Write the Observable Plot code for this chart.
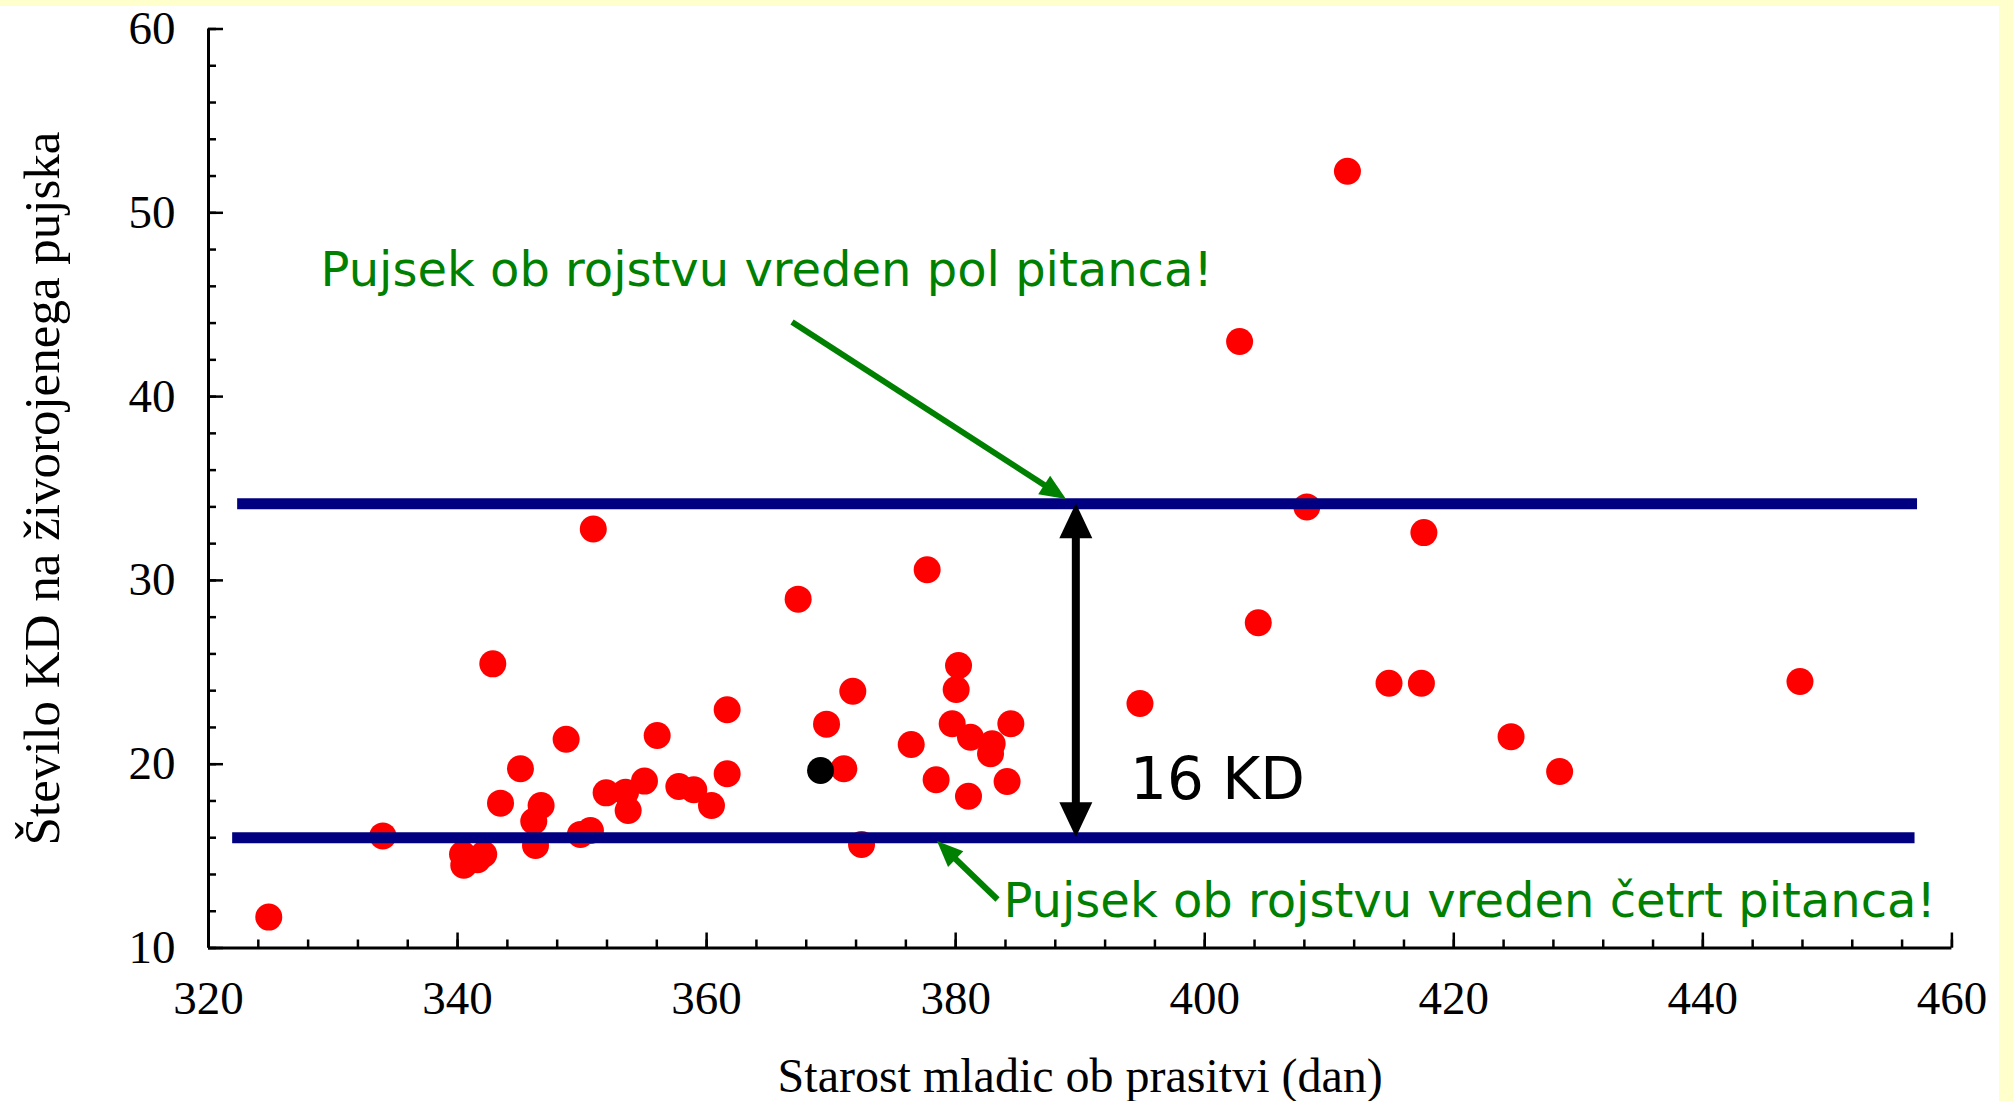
<!DOCTYPE html>
<html>
<head>
<meta charset="utf-8">
<script src="https://cdn.jsdelivr.net/npm/d3@7"></script>
<script src="https://cdn.jsdelivr.net/npm/@observablehq/plot@0.6"></script>
<style>
  html, body { margin: 0; padding: 0; background: #ffffcc; }
  #chart { position: absolute; left: 0; top: 6px; }
</style>
</head>
<body>
<div id="chart"></div>
<script>
// ---- data ----
const ageDays = [
  342.83, 361.65, 348.72, 356.03, 345.05, 361.65, 343.45, 346.71, 346.12, 346.26,
  351.93, 353.49, 353.70, 355.01, 357.77, 358.97, 360.39, 349.87, 350.67,
  340.4, 340.5, 341.6, 342.1,
  377.71, 367.35, 380.23, 380.04, 371.74, 369.63, 379.72, 384.43, 381.19, 382.93,
  382.80, 376.43, 371.02, 378.43, 384.13, 381.03, 372.44,
  324.84, 334.0, 350.9, 394.8, 402.8, 404.3, 408.2, 411.46, 414.8, 417.4, 417.6,
  424.6, 428.5, 447.8
];
const kdPerPiglet = [
  25.46, 22.96, 21.36, 21.56, 19.75, 19.48, 17.88, 17.75, 16.90, 15.58,
  18.44, 18.48, 17.48, 19.08, 18.79, 18.61, 17.75, 16.18, 16.39,
  15.1, 14.5, 14.8, 15.1,
  30.58, 28.98, 25.37, 24.06, 23.97, 22.18, 22.20, 22.20, 21.47, 21.11,
  20.57, 21.07, 19.75, 19.15, 19.06, 18.26, 15.63,
  11.68, 16.1, 32.8, 23.3, 43.0, 27.7, 34.0, 52.26, 24.4, 24.4, 32.6,
  21.5, 19.6, 24.5
];
const highlightAge = [369.15];
const highlightKd = [19.66];

// reference levels (half / quarter of a ration)
const levelValues = [16.0, 34.17];
const levelStart = [321.9, 322.3];
const levelEnd = [457.0, 457.2];

// ticks
const xTickLabels = [320, 340, 360, 380, 400, 420, 440, 460];
const yTickLabels = [10, 20, 30, 40, 50, 60];
const xMinorTicks = d3.range(320, 461, 4);
const yMinorTicks = d3.range(10, 61, 2);

// annotations
const noteTexts = ["Pujsek ob rojstvu vreden pol pitanca!", "Pujsek ob rojstvu vreden četrt pitanca!"];
const noteX = [329.0, 383.84];
const noteY = [46.04, 11.66];
const gapText = ["16 KD"];
const gapX = [394.0];
const gapY = [18.13];
// green pointer arrows: from text to level line
const pointerFromX = [366.9, 383.4];
const pointerFromY = [44.03, 12.61];
const pointerToX = [388.9, 378.54];
const pointerToY = [34.40, 15.79];
// black double arrow between the levels
const gapArrowX = [389.69];

const xTitle = "Starost mladic ob prasitvi (dan)";
const yTitle = "Število KD na živorojenega pujska";

// ---- tables built from the arrays ----
const points = ageDays.map((x, i) => ({x, y: kdPerPiglet[i]}));
const highlight = highlightAge.map((x, i) => ({x, y: highlightKd[i]}));
const levels = levelValues.map((v, i) => ({v, x1: levelStart[i], x2: levelEnd[i]}));
const notes = noteTexts.map((t, i) => ({t, x: noteX[i], y: noteY[i]}));
const gapNotes = gapText.map((t, i) => ({t, x: gapX[i], y: gapY[i]}));
const pointers = pointerFromX.map((x, i) => ({x1: x, y1: pointerFromY[i], x2: pointerToX[i], y2: pointerToY[i]}));

const serif = "'Liberation Serif', 'Times New Roman', Times, serif";
const sans = "'DejaVu Sans', Verdana, sans-serif";

function arrowMark(index, scales) {
  const g = d3.create("svg:g");
  function head(tx, ty, fx, fy, len, wid, color) {
    const dx = tx - fx, dy = ty - fy, d = Math.hypot(dx, dy);
    const ux = dx / d, uy = dy / d, px = -uy, py = ux;
    const bx = tx - ux * len, by = ty - uy * len;
    g.append("path")
      .attr("d", `M${tx},${ty}L${bx + px * wid / 2},${by + py * wid / 2}L${bx - px * wid / 2},${by - py * wid / 2}Z`)
      .attr("fill", color);
    return [bx + ux * 2, by + uy * 2];
  }
  // green pointers
  for (const p of pointers) {
    const x1 = scales.x(p.x1), y1 = scales.y(p.y1), x2 = scales.x(p.x2), y2 = scales.y(p.y2);
    const [bx, by] = head(x2, y2, x1, y1, 26, 22, "#008000");
    g.append("line").attr("x1", x1).attr("y1", y1).attr("x2", bx).attr("y2", by)
      .attr("stroke", "#008000").attr("stroke-width", 6);
  }
  // black double arrow
  for (const ax of gapArrowX) {
    const x = scales.x(ax), yTop = scales.y(levelValues[1]), yBot = scales.y(levelValues[0]);
    const [tx, ty] = head(x, yTop, x, yBot, 35, 33, "black");
    const [bx, by] = head(x, yBot, x, yTop, 35, 33, "black");
    g.append("line").attr("x1", tx).attr("y1", ty).attr("x2", bx).attr("y2", by)
      .attr("stroke", "black").attr("stroke-width", 8);
  }
  return g.node();
}

const chart = Plot.plot({
  width: 1999,
  height: 1095,
  marginLeft: 208,
  marginRight: 47.6,
  marginTop: 22.5,
  marginBottom: 153.5,
  x: {domain: [320, 460]},
  y: {domain: [10, 60]},
  style: {background: "white", fontFamily: serif, overflow: "visible", color: "black"},
  marks: [
    Plot.dot(points, {x: "x", y: "y", r: 13.5, fill: "#ff0000"}),
    Plot.dot(highlight, {x: "x", y: "y", r: 13.5, fill: "black"}),
    Plot.link(levels, {x1: "x1", x2: "x2", y1: "v", y2: "v", stroke: "#000080", strokeWidth: 11}),
    // axis lines
    Plot.ruleY([10], {x1: 320, x2: 460, stroke: "black", strokeWidth: 3}),
    Plot.ruleX([320], {y1: 10, y2: 60, stroke: "black", strokeWidth: 3}),
    // inward ticks
    Plot.axisX({ticks: xMinorTicks, tickSize: -8, tickFormat: () => "", strokeWidth: 2.5, label: null}),
    Plot.axisX({ticks: xTickLabels, tickSize: -15, tickFormat: () => "", strokeWidth: 2.5, label: null}),
    Plot.axisY({ticks: yMinorTicks, tickSize: -8, tickFormat: () => "", strokeWidth: 2.5, label: null}),
    Plot.axisY({ticks: yTickLabels, tickSize: -15, tickFormat: () => "", strokeWidth: 2.5, label: null}),
    // tick labels
    Plot.axisX({ticks: xTickLabels, tickSize: 0, tickPadding: 33, fontSize: 47, label: null, fontFamily: serif}),
    Plot.axisY({ticks: yTickLabels, tickSize: 0, tickPadding: 33, fontSize: 47, label: null, fontFamily: serif}),
    // axis titles
    Plot.text([xTitle], {frameAnchor: "bottom", dy: 143.5, lineAnchor: "bottom", fontSize: 48, fontFamily: serif, fill: "black"}),
    Plot.text([yTitle], {frameAnchor: "left", dx: -150, rotate: -90, textAnchor: "middle", lineAnchor: "bottom", fontSize: 51, fontFamily: serif, fill: "black"}),
    // annotations
    Plot.text(notes, {x: "x", y: "y", text: "t", textAnchor: "start", lineAnchor: "bottom", fontSize: 48, fontFamily: sans, fill: "#008000"}),
    Plot.text(gapNotes, {x: "x", y: "y", text: "t", textAnchor: "start", lineAnchor: "bottom", fontSize: 58, fontFamily: sans, fill: "black"}),
    arrowMark
  ]
});
document.getElementById("chart").appendChild(chart);
</script>
</body>
</html>
